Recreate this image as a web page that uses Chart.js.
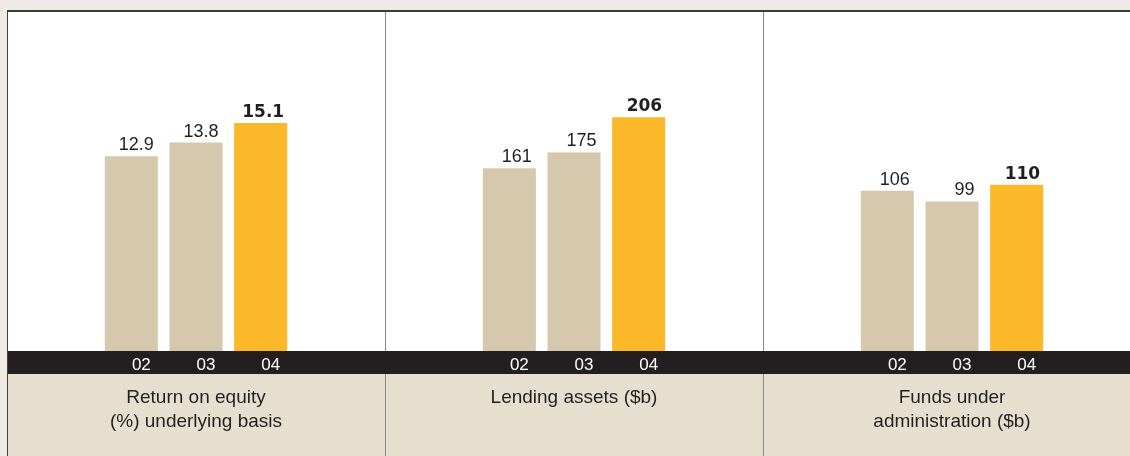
<!DOCTYPE html>
<html>
<head>
<meta charset="utf-8">
<script src="https://cdn.jsdelivr.net/npm/chart.js@4.4.0/dist/chart.umd.min.js"></script>
<style>
  html, body { margin: 0; padding: 0; }
  body { width: 1130px; height: 456px; background: #efebe4; position: relative; overflow: hidden; }
  #topline { position: absolute; left: 7px; top: 10px; width: 1123px; height: 2px; background: #3c3c38; }
  canvas { position: absolute; top: 12px; }
</style>
</head>
<body>
<div id="topline"></div>
<canvas id="roeChart" width="378" height="444" style="left:7px"></canvas>
<canvas id="lendingChart" width="378" height="444" style="left:385px"></canvas>
<canvas id="fundsChart" width="378" height="444" style="left:763px"></canvas>
<script>
// data
var years = ["02", "03", "04"];
var roeValues = [12.9, 13.8, 15.1];
var lendingValues = [161, 175, 206];
var fundsValues = [106, 99, 110];

var roeTitle = ["Return on equity", "(%) underlying basis"];
var lendingTitle = ["Lending assets ($b)"];
var fundsTitle = ["Funds under", "administration ($b)"];

var barColors = ["#d6c8ac", "#d6c8ac", "#fbb829"];
var fontName = "'Liberation Sans', Arial, Helvetica, sans-serif";
var boldFont = "'DejaVu Sans', 'Liberation Sans', sans-serif";
var bandHeight = 23;

// backgrounds: white plot, black band with years, beige caption strip
var panelBack = {
    id: "panelBack",
    beforeDraw: function (chart, args, opts) {
        var c = chart.ctx;
        var w = chart.width, h = chart.height;
        var bottom = chart.chartArea.bottom;
        c.save();
        c.fillStyle = "#ffffff";
        c.fillRect(0, 0, w, bottom);
        c.fillStyle = "#e6dfd0";
        c.fillRect(0, bottom + bandHeight, w, h - bottom - bandHeight);
        c.fillStyle = "#231f20";
        c.fillRect(0, bottom, w, bandHeight);
        // left edge line
        c.fillStyle = opts.lineColor;
        if (opts.fullLine) {
            c.fillRect(0, 0, 1, h);
        } else {
            c.fillRect(0, 0, 1, bottom);
            c.fillRect(0, bottom + bandHeight, 1, h - bottom - bandHeight);
        }
        c.restore();
    }
};

// value above each bar, last one bold
var valueLabels = {
    id: "valueLabels",
    afterDatasetsDraw: function (chart) {
        var c = chart.ctx;
        var meta = chart.getDatasetMeta(0);
        var values = chart.data.datasets[0].data;
        c.save();
        c.fillStyle = "#231f20";
        c.textAlign = "right";
        c.textBaseline = "alphabetic";
        meta.data.forEach(function (bar, i) {
            var last = i === values.length - 1;
            c.font = last ? "bold 17px " + boldFont : "18px " + fontName;
            c.fillText(String(values[i]), bar.x + bar.width / 2 - (last ? 3 : 4), bar.y - 6);
        });
        c.restore();
    }
};

function makePanel(id, values, title, yMax, lineColor, fullLine) {
    var ctx = document.getElementById(id).getContext("2d");
    return new Chart(ctx, {
        type: "bar",
        data: {
            labels: years,
            datasets: [{
                data: values,
                backgroundColor: barColors,
                borderWidth: 0,
                barPercentage: 0.82,
                categoryPercentage: 1
            }]
        },
        options: {
            responsive: false,
            animation: false,
            events: [],
            layout: { padding: { left: 92, right: 92, top: 0, bottom: 0 } },
            scales: {
                x: {
                    grid: { display: false, drawTicks: false },
                    border: { display: false },
                    ticks: {
                        color: "#ffffff",
                        font: { family: fontName, size: 17 },
                        padding: 4,
                        labelOffset: 10,
                        maxRotation: 0
                    },
                    afterFit: function (scale) { scale.height = bandHeight; }
                },
                y: { display: false, min: 0, max: yMax }
            },
            plugins: {
                legend: { display: false },
                tooltip: { enabled: false },
                title: {
                    display: true,
                    position: "bottom",
                    text: title,
                    color: "#231f20",
                    font: { family: fontName, size: 19, weight: "normal", lineHeight: 24 / 19 },
                    padding: { top: 12, bottom: 82 - 12 - 24 * title.length }
                },
                panelBack: { lineColor: lineColor, fullLine: fullLine }
            }
        },
        plugins: [panelBack, valueLabels]
    });
}

var roeChart = makePanel("roeChart", roeValues, roeTitle, 22.45, "#45453e", true);
var lendingChart = makePanel("lendingChart", lendingValues, lendingTitle, 298.7, "#8a8a8a", false);
var fundsChart = makePanel("fundsChart", fundsValues, fundsTitle, 224.4, "#8a8a8a", false);
</script>
</body>
</html>
